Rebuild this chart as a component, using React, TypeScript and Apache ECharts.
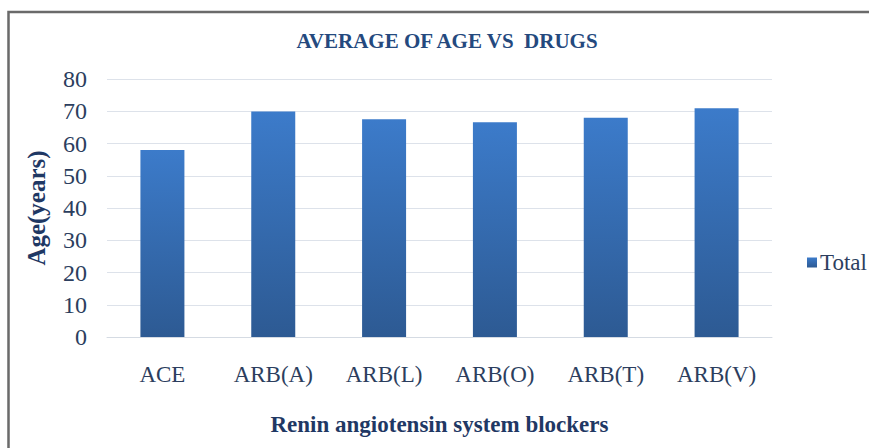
import React, { useEffect, useRef } from "react";
import * as echarts from "echarts";

const categories = ["ACE", "ARB(A)", "ARB(L)", "ARB(O)", "ARB(T)", "ARB(V)"];
const totalValues = [58.0, 69.9, 67.5, 66.6, 68.0, 70.9];
const yMin = 0;
const yMax = 80;
const yInterval = 10;

const FONT = "Liberation Serif";

export default function App() {
  const ref = useRef<HTMLDivElement>(null);
  useEffect(() => {
    if (!ref.current) return;
    const chart = echarts.init(ref.current, undefined, { renderer: "svg" });
    chart.setOption({
      animation: false,
      backgroundColor: "#ffffff",
      textStyle: { fontFamily: FONT },
      title: {
        text: "AVERAGE OF AGE VS  DRUGS",
        left: 442,
        textAlign: "center",
        top: 25,
        textStyle: {
          fontFamily: FONT,
          fontWeight: "bold",
          fontSize: 21,
          color: "#24497e",
        },
      },
      legend: {
        data: ["Total"],
        left: 802,
        top: 246,
        orient: "vertical",
        itemWidth: 10,
        itemHeight: 10,
        itemGap: 6,
        icon: "rect",
        textStyle: {
          fontFamily: FONT,
          fontSize: 23,
          color: "#2c3e5e",
          padding: [0, 0, 0, -2],
        },
      },
      grid: {
        left: 107,
        right: 97,
        top: 79,
        bottom: 111,
        containLabel: false,
      },
      xAxis: {
        type: "category",
        data: categories,
        name: "Renin angiotensin system blockers",
        nameLocation: "middle",
        nameGap: 76,
        nameTextStyle: {
          fontFamily: FONT,
          fontWeight: "bold",
          fontSize: 23,
          color: "#1f3864",
          verticalAlign: "top",
        },
        axisLine: { show: true, lineStyle: { color: "#d5dbe3", width: 1 } },
        axisTick: { show: false },
        axisLabel: {
          fontFamily: FONT,
          fontSize: 23,
          color: "#2c3e5e",
          margin: 26,
        },
      },
      yAxis: {
        type: "value",
        min: yMin,
        max: yMax,
        interval: yInterval,
        name: "Age(years)",
        nameLocation: "middle",
        nameGap: 58,
        nameTextStyle: {
          fontFamily: FONT,
          fontWeight: "bold",
          fontSize: 25,
          color: "#1f3864",
        },
        axisLine: { show: false },
        axisTick: { show: false },
        splitLine: { lineStyle: { color: "#dde2ea", width: 1 } },
        axisLabel: {
          fontFamily: FONT,
          fontSize: 24,
          color: "#2c3e5e",
          margin: 20,
        },
      },
      series: [
        {
          name: "Total",
          type: "bar",
          data: totalValues,
          barWidth: 44,
          itemStyle: {
            color: new echarts.graphic.LinearGradient(0, 0, 0, 1, [
              { offset: 0, color: "#3c7bca" },
              { offset: 1, color: "#2d5a93" },
            ]),
          },
        },
      ],
      graphic: [
        {
          type: "rect",
          shape: { x: 8.5, y: 12, width: 900, height: 500 },
          style: { fill: "none", stroke: "#6a6a6a", lineWidth: 2.5 },
          silent: true,
        },
      ],
    });
    return () => chart.dispose();
  }, []);
  return (
    <div
      ref={ref}
      style={{ position: "fixed", left: 0, top: 0, width: 869, height: 448 }}
    />
  );
}
